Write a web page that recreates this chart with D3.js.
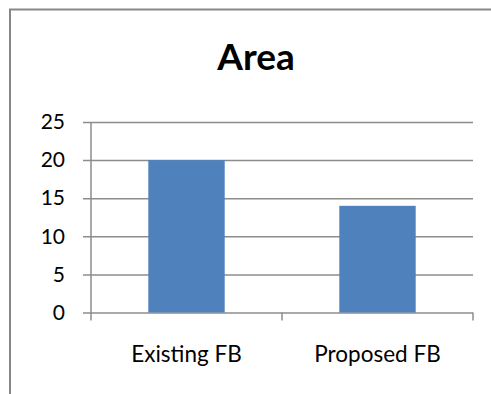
<!DOCTYPE html>
<html>
<head>
<meta charset="utf-8">
<script src="https://cdn.jsdelivr.net/npm/d3@7"></script>
<style>
  body { margin: 0; background: #fff; }
  text { font-family: Lato, "Open Sans", sans-serif; fill: #000; }
</style>
</head>
<body>
<svg id="chart"></svg>
<script>
var width = 491,
    height = 394;

var categories = ["Existing FB", "Proposed FB"];
var areaValues = [20, 14];
var yTicks = [0, 5, 10, 15, 20, 25];
var title = "Area";

var plotLeft = 91, plotRight = 473, plotTop = 122, plotBottom = 312.5;

var svg = d3.select("#chart").attr("width", width).attr("height", height);

svg.append("rect")
    .attr("width", width)
    .attr("height", height)
    .attr("fill", "#fff");

// chart border (runs past the right/bottom edge)
svg.append("rect")
    .attr("x", 10)
    .attr("y", 9.5)
    .attr("width", 520)
    .attr("height", 420)
    .attr("fill", "none")
    .style("stroke", "#878787")
    .style("stroke-width", 2);

svg.append("text")
    .attr("x", 256)
    .attr("y", 70)
    .attr("text-anchor", "middle")
    .style("font-size", "37px")
    .style("font-weight", "bold")
    .text(title);

var y = d3.scaleLinear().domain([0, 25]).range([plotBottom, plotTop]);
var x = d3.scaleBand().domain(categories).range([plotLeft, plotRight])
    .paddingInner(0.6).paddingOuter(0.3);

// gridlines + y labels: axis drawn from the right side so the lines poke out left of the axis
var yAxis = svg.append("g")
    .attr("transform", "translate(" + plotRight + ",0)")
    .call(d3.axisLeft(y).tickValues(yTicks).tickSize(plotRight - plotLeft + 8).tickPadding(18));
yAxis.select(".domain").remove();
yAxis.selectAll("line").style("stroke", "#8c8c8c").style("stroke-width", 1.5);
yAxis.selectAll("text").style("font-size", "21px").style("font-family", "Lato, sans-serif").attr("fill", "#000");

svg.selectAll(".bar").data(areaValues)
    .enter()
    .append("rect")
        .attr("class", "bar")
        .attr("x", function(d, i) { return x(categories[i]); })
        .attr("y", function(d) { return y(d); })
        .attr("width", x.bandwidth())
        .attr("height", function(d) { return y(0) - y(d); })
        .style("fill", "#4F81BD");

// vertical axis line
svg.append("line")
    .attr("x1", plotLeft).attr("x2", plotLeft)
    .attr("y1", y(25)).attr("y2", y(0) + 8)
    .style("stroke", "#8c8c8c").style("stroke-width", 1.5);

// category boundary ticks
var step = x.step();
var bounds = d3.range(categories.length + 1).map(function(i) { return plotLeft + i * step; });
svg.selectAll(".ctick").data(bounds.slice(1))
    .enter()
    .append("line")
        .attr("x1", function(d) { return d; })
        .attr("x2", function(d) { return d; })
        .attr("y1", y(0))
        .attr("y2", y(0) + 8)
        .style("stroke", "#8c8c8c").style("stroke-width", 1.5);

var xAxis = svg.append("g")
    .attr("transform", "translate(0," + y(0) + ")")
    .call(d3.axisBottom(x).tickSize(0).tickPadding(34));
xAxis.select(".domain").remove();
xAxis.selectAll("text").style("font-size", "22.5px").style("font-family", "Lato, sans-serif").attr("fill", "#000");
</script>
</body>
</html>
